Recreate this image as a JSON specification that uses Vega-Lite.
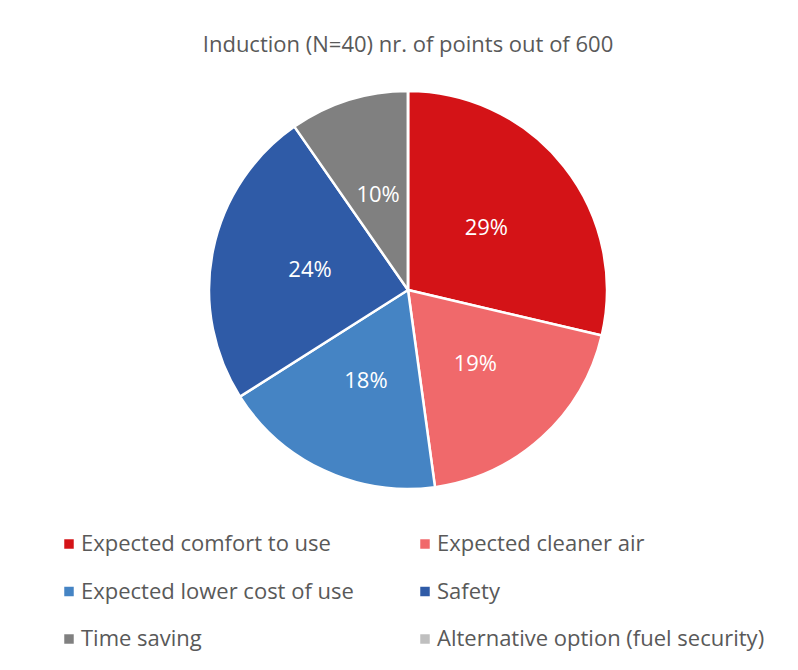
{
  "$schema": "https://vega.github.io/schema/vega-lite/v6.json",
  "autosize": "none",
  "width": 400,
  "height": 400,
  "padding": {"left": 208, "top": 90, "right": 190, "bottom": 180},
  "background": "white",
  "title": {
    "text": "Induction (N=40) nr. of points out of 600",
    "font": "Open Sans",
    "fontSize": 22,
    "fontWeight": "normal",
    "color": "#595959",
    "anchor": "middle",
    "offset": 29
  },
  "data": {
    "values": [
      {"category": "Expected comfort to use", "points": 172, "ord": 1},
      {"category": "Expected cleaner air", "points": 115, "ord": 2},
      {"category": "Expected lower cost of use", "points": 109, "ord": 3},
      {"category": "Safety", "points": 146, "ord": 4},
      {"category": "Time saving", "points": 58, "ord": 5},
      {"category": "Alternative option (fuel security)", "points": 0, "ord": 6}
    ]
  },
  "transform": [
    {"joinaggregate": [{"op": "sum", "field": "points", "as": "total"}]},
    {"calculate": "datum.points / datum.total", "as": "share"}
  ],
  "encoding": {
    "theta": {"field": "points", "type": "quantitative", "stack": true},
    "order": {"field": "ord", "type": "quantitative"}
  },
  "layer": [
    {
      "mark": {"type": "arc", "outerRadius": 199, "stroke": "white", "strokeWidth": 2.5},
      "encoding": {
        "color": {
          "field": "category",
          "type": "nominal",
          "scale": {
            "domain": ["Expected comfort to use", "Expected cleaner air", "Expected lower cost of use", "Safety", "Time saving", "Alternative option (fuel security)"],
            "range": ["#D41317", "#F0696B", "#4584C4", "#2F5BA7", "#808080", "#BFBFBF"]
          },
          "legend": {
            "title": null,
            "orient": "none",
            "direction": "horizontal",
            "legendX": -150,
            "legendY": 443,
            "columns": 2,
            "columnPadding": 60,
            "rowPadding": 25.5,
            "symbolType": "square",
            "symbolSize": 90,
            "symbolStrokeWidth": 0,
            "labelFont": "Open Sans",
            "labelFontSize": 22,
            "labelColor": "#595959",
            "labelOffset": 1,
            "labelLimit": 400
          }
        }
      }
    },
    {
      "transform": [{"filter": "datum.points > 0"}],
      "mark": {"type": "text", "radius": 100, "font": "Open Sans", "fontSize": 22, "fill": "white"},
      "encoding": {
        "text": {"field": "share", "type": "quantitative", "format": ".0%"}
      }
    }
  ],
  "config": {"view": {"stroke": null}}
}
